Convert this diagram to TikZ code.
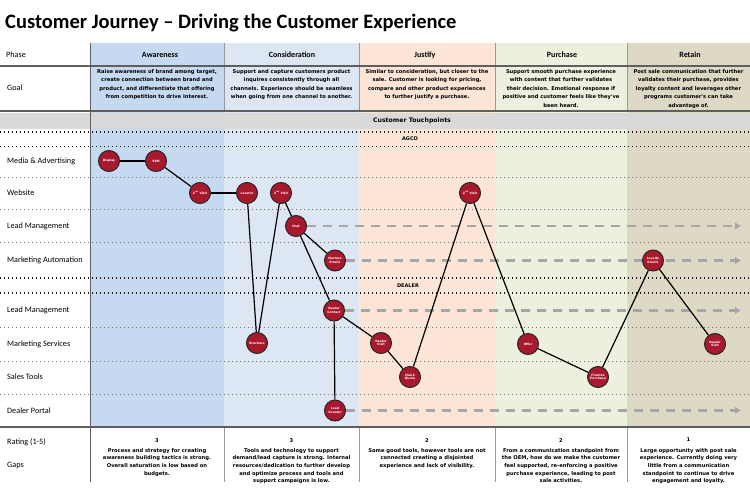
\documentclass[tikz,border=0pt]{standalone}
\usepackage{fontspec}
\setmainfont{Carlito}
\newfontfamily\smallfont{DejaVu Sans}
\usetikzlibrary{arrows.meta}
\definecolor{cAw}{HTML}{C5D9F1}
\definecolor{cCo}{HTML}{DDE7F3}
\definecolor{cJu}{HTML}{FCE5D7}
\definecolor{cPu}{HTML}{EBF1DE}
\definecolor{cRe}{HTML}{DDD9C4}
\definecolor{band}{HTML}{D9D9D9}
\definecolor{tpred}{HTML}{A8192E}
\definecolor{dashg}{HTML}{A6A6A6}
\definecolor{rulec}{HTML}{5F5F5F}
\pgfdeclarelayer{bg}
\pgfdeclarelayer{edges}
\pgfsetlayers{bg,edges,main}
\tikzset{
  tpnode/.style={circle, draw=black!85, line width=1pt, fill=tpred, minimum size=21pt, inner sep=0pt, text=white, align=center, font=\smallfont\bfseries\fontsize{3}{3.6}\selectfont},
  rowlab/.style={anchor=west, inner sep=0pt, font=\fontsize{8.2}{9}\selectfont},
  phaselab/.style={inner sep=0pt, font=\bfseries\fontsize{8}{9}\selectfont},
  goaltext/.style={anchor=north, align=center, inner sep=0pt, font=\smallfont\bfseries\fontsize{5.2}{8.6}\selectfont},
  gaptext/.style={anchor=north, align=center, inner sep=0pt, font=\smallfont\bfseries\fontsize{5.2}{7.7}\selectfont},
  bandtext/.style={inner sep=0pt, font=\smallfont\bfseries\fontsize{5}{6}\selectfont},
  link/.style={line width=1.2pt, black},
  flow/.style={dashg, line width=2.4pt, dash pattern=on 9pt off 7pt, -{Latex[length=6pt,width=8pt]}},
  lightdot/.style={black!55, line width=0.7pt, dash pattern=on 0.8pt off 3.2pt},
  darkdot/.style={black!90, line width=1.1pt, dash pattern=on 1.1pt off 2.9pt},
  rulebar/.style={rulec, line width=1.6pt},
  vsep/.style={black!40, line width=0.7pt}
}
\begin{document}
\begin{tikzpicture}[x=1pt,y=-1pt]
\useasboundingbox (0,0) rectangle (750,503);
\begin{pgfonlayer}{bg}
  \fill[white] (0,0) rectangle (750,503);
  \fill[cAw] (90,43) rectangle (224,427);
  \fill[cCo] (224,43) rectangle (359,427);
  \fill[cJu] (359,43) rectangle (495,427);
  \fill[cPu] (495,43) rectangle (627,427);
  \fill[cRe] (627,43) rectangle (750,427);
  \fill[band] (0,112.5) rectangle (750,128.5);
  % dotted row separators
  \foreach \yy in {132,146.5,278,293} \draw[darkdot] (0,\yy) -- (750,\yy);
  \foreach \yy in {177,209.5,242,327,361,394} \draw[lightdot] (0,\yy) -- (750,\yy);
  % vertical separators
  \foreach \xx in {224,359,495,627} {
    \draw[vsep] (\xx,43) -- (\xx,111);
    \draw[vsep] (\xx,427) -- (\xx,482);
  }
  \draw[rulec, line width=1pt] (90,43) -- (90,482);
  \draw[rulebar] (0,66) -- (750,66);
  \draw[rulebar] (0,111) -- (750,111);
  \draw[rulebar] (0,427) -- (750,427);
\end{pgfonlayer}

% title
\node[anchor=base west, inner sep=0pt, font=\bfseries\fontsize{20.5}{24}\selectfont] (title) at (5,29) {Customer Journey – Driving the Customer Experience};

% header
\node[rowlab] (lphase) at (6,55) {Phase};
\node[phaselab] (hAw) at (160,55) {Awareness};
\node[phaselab] (hCo) at (292,55) {Consideration};
\node[phaselab] (hJu) at (425,55) {Justify};
\node[phaselab] (hPu) at (562,55) {Purchase};
\node[phaselab] (hRe) at (690,55) {Retain};

% goal row
\node[rowlab] (lgoal) at (7,88) {Goal};
\node[goaltext] (gAw) at (157,69) {Raise awareness of brand among target,\\create connection between brand and\\product, and differentiate that offering\\from competition to drive interest.};
\node[goaltext] (gCo) at (291.5,69) {Support and capture customers product\\inquires consistently through all\\channels. Experience should be seamless\\when going from one channel to another.};
\node[goaltext] (gJu) at (427,69) {Similar to consideration, but closer to the\\sale. Customer is looking for pricing,\\compare and other product experiences\\to further justify a purchase.};
\node[goaltext] (gPu) at (561,69) {Support smooth purchase experience\\with content that further validates\\their decision. Emotional response if\\positive and customer feels like they've\\been heard.};
\node[goaltext] (gRe) at (688.5,69) {Post sale communication that further\\validates their purchase, provides\\loyalty content and leverages other\\programs customer's can take\\advantage of.};

% touchpoints band
\node[bandtext, font=\smallfont\bfseries\fontsize{6.2}{7}\selectfont] (ctp) at (412,120.5) {Customer Touchpoints};
\node[bandtext] (agco) at (410,139) {AGCO};
\node[bandtext] (dealer) at (408,285.5) {DEALER};

% row labels
\node[rowlab] (r1) at (7,161) {Media \& Advertising};
\node[rowlab] (r2) at (7,193) {Website};
\node[rowlab] (r3) at (7,226) {Lead Management};
\node[rowlab] (r4) at (7,260.5) {Marketing Automation};
\node[rowlab] (r5) at (7,310.5) {Lead Management};
\node[rowlab] (r6) at (7,344) {Marketing Services};
\node[rowlab] (r7) at (7,377) {Sales Tools};
\node[rowlab] (r8) at (7,410.5) {Dealer Portal};

% touchpoint nodes
\node[tpnode] (disp) at (109,161) {Display};
\node[tpnode] (sem) at (156,161) {SEM};
\node[tpnode] (v2a) at (200,193) {2\textsuperscript{nd} Visit};
\node[tpnode] (loc) at (247,193) {Locator};
\node[tpnode] (v2c) at (281,193) {2\textsuperscript{nd} Visit};
\node[tpnode] (chat) at (296,226) {Chat};
\node[tpnode] (nurt) at (335,260.5) {Nurture\\Emails};
\node[tpnode] (dcon) at (334,310.5) {Dealer\\Contact};
\node[tpnode] (broc) at (257,343) {Brochure};
\node[tpnode] (lcnt) at (335,410.5) {Lead\\Counter};
\node[tpnode] (dvj) at (381,343) {Dealer\\Visit};
\node[tpnode] (qq) at (410,377) {Quick\\Quote};
\node[tpnode] (v2j) at (470,193) {2\textsuperscript{nd} Visit};
\node[tpnode] (offer) at (528,344) {Offer};
\node[tpnode] (fin) at (598,377) {Finalize\\Purchase};
\node[tpnode] (loy) at (653,260.5) {Loyalty\\Emails};
\node[tpnode] (dvr) at (715,344) {Dealer\\Visit};

\coordinate (e1) at (741,226);
\coordinate (e2) at (741,260.5);
\coordinate (e3) at (741,310.5);
\coordinate (e4) at (741,410.5);

\begin{pgfonlayer}{edges}
  \draw[flow] (chat.east) -- (e1);
  \draw[flow] (nurt.east) -- (e2);
  \draw[flow] (dcon.east) -- (e3);
  \draw[flow] (lcnt.east) -- (e4);
  \draw[link] (disp) -- (sem);
  \draw[link] (sem) -- (v2a);
  \draw[link] (v2a) -- (loc);
  \draw[link] (loc) -- (broc);
  \draw[link] (broc) -- (v2c);
  \draw[link] (v2c) -- (chat);
  \draw[link] (chat) -- (nurt);
  \draw[link] (chat) -- (dcon);
  \draw[link] (dcon) -- (lcnt);
  \draw[link] (dcon) -- (dvj);
  \draw[link] (dvj) -- (qq);
  \draw[link] (qq) -- (v2j);
  \draw[link] (v2j) -- (offer);
  \draw[link] (offer) -- (fin);
  \draw[link] (fin) -- (loy);
  \draw[link] (loy) -- (dvr);
\end{pgfonlayer}

% bottom rows
\node[rowlab] (lrate) at (7,442) {Rating (1-5)};
\node[rowlab] (lgaps) at (7,465) {Gaps};
\node[gaptext] (nAw) at (157,438) {3};
\node[gaptext] (nCo) at (291.5,438) {3};
\node[gaptext] (nJu) at (427,438) {2};
\node[gaptext] (nPu) at (561,438) {2};
\node[gaptext] (nRe) at (688.5,438) {1};
\node[gaptext] (tAw) at (157,448) {Process and strategy for creating\\awareness building tactics is strong.\\Overall saturation is low based on\\budgets.};
\node[gaptext] (tCo) at (291.5,448) {Tools and technology to support\\demand/lead capture is strong. Internal\\resources/dedication to further develop\\and optimize process and tools and\\support campaigns is low.};
\node[gaptext] (tJu) at (427,448) {Some good tools, however tools are not\\connected creating a disjointed\\experience and lack of visibility.};
\node[gaptext] (tPu) at (561,448) {From a communication standpoint from\\the OEM, how do we make the customer\\feel supported, re-enforcing a positive\\purchase experience, leading to post\\sale activities.};
\node[gaptext] (tRe) at (688.5,448) {Large opportunity with post sale\\experience. Currently doing very\\little from a communication\\standpoint to continue to drive\\engagement and loyalty.};
\end{tikzpicture}
\end{document}
